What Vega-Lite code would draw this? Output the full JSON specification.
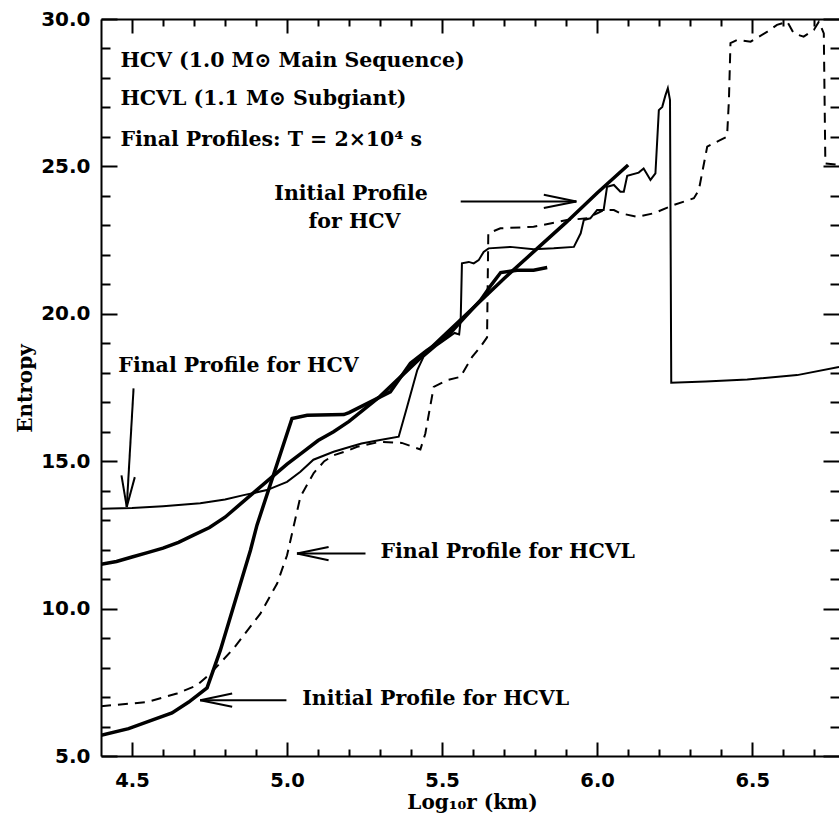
{
  "$schema": "https://vega.github.io/schema/vega-lite/v6.json",
  "width": 738,
  "height": 737,
  "autosize": "none",
  "padding": {"left": 101, "top": 19, "right": 0, "bottom": 63},
  "background": "white",
  "config": {
    "view": {"stroke": null},
    "axis": {"grid": false, "domainColor": "black", "tickColor": "black", "domainWidth": 2, "tickWidth": 2, "labelColor": "black", "titleColor": "black", "labelOverlap": false, "labelFlush": false}
  },
  "datasets": {
    "initHCV": [
      {"x": 4.4, "y": 11.5}, {"x": 4.45, "y": 11.6}, {"x": 4.5, "y": 11.75}, {"x": 4.55, "y": 11.9}, {"x": 4.6, "y": 12.05}, {"x": 4.65, "y": 12.25}, {"x": 4.7, "y": 12.5}, {"x": 4.75, "y": 12.75}, {"x": 4.8, "y": 13.1}, {"x": 4.85, "y": 13.55}, {"x": 4.9, "y": 14.0}, {"x": 4.95, "y": 14.45}, {"x": 5.0, "y": 14.9}, {"x": 5.05, "y": 15.3}, {"x": 5.1, "y": 15.7}, {"x": 5.15, "y": 16.0}, {"x": 5.2, "y": 16.35}, {"x": 5.3, "y": 17.2}, {"x": 5.4, "y": 18.2}, {"x": 5.5, "y": 19.2}, {"x": 5.6, "y": 20.2}, {"x": 5.7, "y": 21.2}, {"x": 5.8, "y": 22.15}, {"x": 5.9, "y": 23.1}, {"x": 6.0, "y": 24.1}, {"x": 6.1, "y": 25.05}
    ],
    "finalHCV": [
      {"x": 4.4, "y": 13.39}, {"x": 4.5, "y": 13.41}, {"x": 4.6, "y": 13.47}, {"x": 4.72, "y": 13.57}, {"x": 4.8, "y": 13.7}, {"x": 4.86, "y": 13.85}, {"x": 4.935, "y": 14.02}, {"x": 5.0, "y": 14.3}, {"x": 5.043, "y": 14.64}, {"x": 5.085, "y": 15.05}, {"x": 5.15, "y": 15.32}, {"x": 5.204, "y": 15.49}, {"x": 5.24, "y": 15.6}, {"x": 5.3, "y": 15.72}, {"x": 5.36, "y": 15.83}, {"x": 5.387, "y": 16.84}, {"x": 5.42, "y": 18.09}, {"x": 5.44, "y": 18.54}, {"x": 5.48, "y": 18.9}, {"x": 5.52, "y": 19.2}, {"x": 5.54, "y": 19.35}, {"x": 5.555, "y": 19.3}, {"x": 5.56, "y": 19.8}, {"x": 5.564, "y": 21.71}, {"x": 5.586, "y": 21.76}, {"x": 5.602, "y": 21.71}, {"x": 5.618, "y": 21.82}, {"x": 5.634, "y": 22.1}, {"x": 5.65, "y": 22.22}, {"x": 5.72, "y": 22.27}, {"x": 5.795, "y": 22.19}, {"x": 5.86, "y": 22.22}, {"x": 5.925, "y": 22.27}, {"x": 5.947, "y": 22.73}, {"x": 5.957, "y": 23.18}, {"x": 5.978, "y": 23.24}, {"x": 6.0, "y": 23.52}, {"x": 6.021, "y": 23.52}, {"x": 6.032, "y": 24.31}, {"x": 6.054, "y": 24.37}, {"x": 6.075, "y": 24.14}, {"x": 6.086, "y": 24.14}, {"x": 6.097, "y": 24.68}, {"x": 6.134, "y": 24.79}, {"x": 6.15, "y": 24.93}, {"x": 6.172, "y": 24.54}, {"x": 6.188, "y": 24.76}, {"x": 6.199, "y": 26.91}, {"x": 6.21, "y": 27.02}, {"x": 6.22, "y": 27.4}, {"x": 6.228, "y": 27.65}, {"x": 6.235, "y": 27.25}, {"x": 6.239, "y": 17.66}, {"x": 6.35, "y": 17.7}, {"x": 6.484, "y": 17.77}, {"x": 6.645, "y": 17.92}, {"x": 6.78, "y": 18.2}
    ],
    "initHCVL": [
      {"x": 4.4, "y": 5.7}, {"x": 4.489, "y": 5.93}, {"x": 4.56, "y": 6.2}, {"x": 4.629, "y": 6.46}, {"x": 4.683, "y": 6.83}, {"x": 4.742, "y": 7.31}, {"x": 4.785, "y": 8.59}, {"x": 4.882, "y": 11.98}, {"x": 4.903, "y": 12.83}, {"x": 5.016, "y": 16.45}, {"x": 5.065, "y": 16.56}, {"x": 5.183, "y": 16.58}, {"x": 5.2, "y": 16.65}, {"x": 5.333, "y": 17.35}, {"x": 5.398, "y": 18.32}, {"x": 5.45, "y": 18.75}, {"x": 5.516, "y": 19.22}, {"x": 5.57, "y": 19.85}, {"x": 5.624, "y": 20.46}, {"x": 5.66, "y": 21.0}, {"x": 5.689, "y": 21.4}, {"x": 5.742, "y": 21.48}, {"x": 5.795, "y": 21.48}, {"x": 5.839, "y": 21.57}
    ],
    "finalHCVL": [
      {"x": 4.4, "y": 6.69}, {"x": 4.548, "y": 6.83}, {"x": 4.645, "y": 7.12}, {"x": 4.71, "y": 7.4}, {"x": 4.753, "y": 7.8}, {"x": 4.828, "y": 8.65}, {"x": 4.914, "y": 9.83}, {"x": 4.968, "y": 10.85}, {"x": 5.0, "y": 11.81}, {"x": 5.043, "y": 13.79}, {"x": 5.086, "y": 14.6}, {"x": 5.12, "y": 15.0}, {"x": 5.15, "y": 15.2}, {"x": 5.194, "y": 15.35}, {"x": 5.226, "y": 15.49}, {"x": 5.301, "y": 15.66}, {"x": 5.37, "y": 15.62}, {"x": 5.43, "y": 15.4}, {"x": 5.446, "y": 15.94}, {"x": 5.473, "y": 17.52}, {"x": 5.516, "y": 17.75}, {"x": 5.559, "y": 17.86}, {"x": 5.597, "y": 18.54}, {"x": 5.624, "y": 18.88}, {"x": 5.645, "y": 19.2}, {"x": 5.649, "y": 22.73}, {"x": 5.688, "y": 22.9}, {"x": 5.795, "y": 22.95}, {"x": 5.903, "y": 23.18}, {"x": 5.968, "y": 23.24}, {"x": 6.0, "y": 23.41}, {"x": 6.021, "y": 23.52}, {"x": 6.054, "y": 23.52}, {"x": 6.075, "y": 23.41}, {"x": 6.13, "y": 23.29}, {"x": 6.183, "y": 23.41}, {"x": 6.247, "y": 23.69}, {"x": 6.312, "y": 23.92}, {"x": 6.328, "y": 24.2}, {"x": 6.355, "y": 25.67}, {"x": 6.398, "y": 25.9}, {"x": 6.419, "y": 26.01}, {"x": 6.425, "y": 27.25}, {"x": 6.43, "y": 29.18}, {"x": 6.452, "y": 29.29}, {"x": 6.495, "y": 29.23}, {"x": 6.549, "y": 29.57}, {"x": 6.58, "y": 29.8}, {"x": 6.613, "y": 29.91}, {"x": 6.634, "y": 29.51}, {"x": 6.666, "y": 29.4}, {"x": 6.699, "y": 29.63}, {"x": 6.715, "y": 29.91}, {"x": 6.731, "y": 29.51}, {"x": 6.736, "y": 25.1}, {"x": 6.78, "y": 25.05}
    ],
    "labels": [
      {"x": 4.4625, "y": 28.59, "text": "HCV (1.0 M⊙ Main Sequence)"},
      {"x": 4.4625, "y": 27.29, "text": "HCVL (1.1 M⊙ Subgiant)"},
      {"x": 4.4625, "y": 25.89, "text": "Final Profiles: T = 2×10⁴ s"},
      {"x": 4.959, "y": 24.06, "text": "Initial Profile"},
      {"x": 5.069, "y": 23.13, "text": "for HCV"},
      {"x": 4.456, "y": 18.24, "text": "Final Profile for HCV"},
      {"x": 5.301, "y": 11.92, "text": "Final Profile for HCVL"},
      {"x": 5.049, "y": 6.95, "text": "Initial Profile for HCVL"}
    ],
    "arrows": [
      {"x": 4.505, "y": 17.47, "x2": 4.483, "y2": 13.45},
      {"x": 4.466, "y": 14.52, "x2": 4.483, "y2": 13.45},
      {"x": 4.509, "y": 14.46, "x2": 4.483, "y2": 13.45},
      {"x": 5.253, "y": 11.87, "x2": 5.032, "y2": 11.87},
      {"x": 5.134, "y": 12.09, "x2": 5.032, "y2": 11.87},
      {"x": 5.134, "y": 11.64, "x2": 5.032, "y2": 11.87},
      {"x": 4.998, "y": 6.89, "x2": 4.72, "y2": 6.89},
      {"x": 4.823, "y": 7.12, "x2": 4.72, "y2": 6.89},
      {"x": 4.823, "y": 6.67, "x2": 4.72, "y2": 6.89},
      {"x": 5.56, "y": 23.81, "x2": 5.933, "y2": 23.81},
      {"x": 5.828, "y": 24.04, "x2": 5.933, "y2": 23.81},
      {"x": 5.828, "y": 23.59, "x2": 5.933, "y2": 23.81}
    ]
  },
  "layer": [
    {
      "data": {"name": "finalHCV"},
      "mark": {"type": "line", "color": "black", "strokeWidth": 2, "clip": true},
      "encoding": {
        "x": {"field": "x", "type": "quantitative", "scale": {"domain": [4.4, 6.78], "nice": false, "zero": false},
          "axis": {"orient": "bottom", "values": [4.5,4.6,4.7,4.8,4.9,5.0,5.1,5.2,5.3,5.4,5.5,5.6,5.7,5.8,5.9,6.0,6.1,6.2,6.3,6.4,6.5,6.6,6.7],
            "labelExpr": "round(datum.value*10)%5==0 ? format(datum.value,'.1f') : ''",
            "tickSize": {"condition": {"test": "round(datum.value*10)%5==0", "value": -14}, "value": -7},
            "labelPadding": 29, "labelFont": "DejaVu Sans", "labelFontWeight": "bold", "labelFontSize": 19.5,
            "title": "Log₁₀r (km)", "titleFont": "DejaVu Serif", "titleFontSize": 20, "titleFontWeight": "bold",
            "titleX": 371, "titleY": 46, "titleAlign": "center", "titleBaseline": "middle"}},
        "y": {"field": "y", "type": "quantitative", "scale": {"domain": [5, 30], "nice": false, "zero": false},
          "axis": {"orient": "left", "values": [5,6,7,8,9,10,11,12,13,14,15,16,17,18,19,20,21,22,23,24,25,26,27,28,29,30],
            "labelExpr": "datum.value%5==0 ? format(datum.value,'.1f') : ''",
            "tickSize": {"condition": {"test": "datum.value%5==0", "value": -16}, "value": -9},
            "labelPadding": 27, "labelFont": "DejaVu Sans", "labelFontWeight": "bold", "labelFontSize": 20,
            "title": "Entropy", "titleFont": "DejaVu Serif", "titleFontSize": 20, "titleFontWeight": "bold",
            "titleX": -76, "titleY": 369, "titleAlign": "center", "titleBaseline": "middle", "titleAngle": -90}},
        "order": {"value": null}
      }
    },
    {
      "data": {"name": "initHCV"},
      "mark": {"type": "line", "color": "black", "strokeWidth": 3.5, "clip": true},
      "encoding": {
        "x": {"field": "x", "type": "quantitative",
          "axis": {"orient": "top", "values": [4.5,4.6,4.7,4.8,4.9,5.0,5.1,5.2,5.3,5.4,5.5,5.6,5.7,5.8,5.9,6.0,6.1,6.2,6.3,6.4,6.5,6.6,6.7],
            "labels": false, "title": null,
            "tickSize": {"condition": {"test": "round(datum.value*10)%5==0", "value": -14}, "value": -7}}},
        "y": {"field": "y", "type": "quantitative",
          "axis": {"orient": "right", "values": [5,6,7,8,9,10,11,12,13,14,15,16,17,18,19,20,21,22,23,24,25,26,27,28,29,30],
            "labels": false, "title": null, "domain": false,
            "tickSize": {"condition": {"test": "datum.value%5==0", "value": -16}, "value": -9}}},
        "order": {"value": null}
      }
    },
    {
      "data": {"name": "initHCVL"},
      "mark": {"type": "line", "color": "black", "strokeWidth": 3.5, "clip": true},
      "encoding": {
        "x": {"field": "x", "type": "quantitative", "axis": null},
        "y": {"field": "y", "type": "quantitative", "axis": null},
        "order": {"value": null}
      }
    },
    {
      "data": {"name": "finalHCVL"},
      "mark": {"type": "line", "color": "black", "strokeWidth": 2, "strokeDash": [10, 7], "clip": true},
      "encoding": {
        "x": {"field": "x", "type": "quantitative", "axis": null},
        "y": {"field": "y", "type": "quantitative", "axis": null},
        "order": {"value": null}
      }
    },
    {
      "data": {"name": "arrows"},
      "mark": {"type": "rule", "color": "black", "strokeWidth": 2},
      "encoding": {
        "x": {"field": "x", "type": "quantitative", "axis": null},
        "y": {"field": "y", "type": "quantitative", "axis": null},
        "x2": {"field": "x2"},
        "y2": {"field": "y2"}
      }
    },
    {
      "data": {"name": "labels"},
      "mark": {"type": "text", "align": "left", "baseline": "middle", "font": "DejaVu Serif", "fontSize": 20.5, "fontWeight": "bold", "color": "black"},
      "encoding": {
        "x": {"field": "x", "type": "quantitative", "axis": null},
        "y": {"field": "y", "type": "quantitative", "axis": null},
        "text": {"field": "text"}
      }
    }
  ],
  "resolve": {"axis": {"x": "independent", "y": "independent"}}
}
